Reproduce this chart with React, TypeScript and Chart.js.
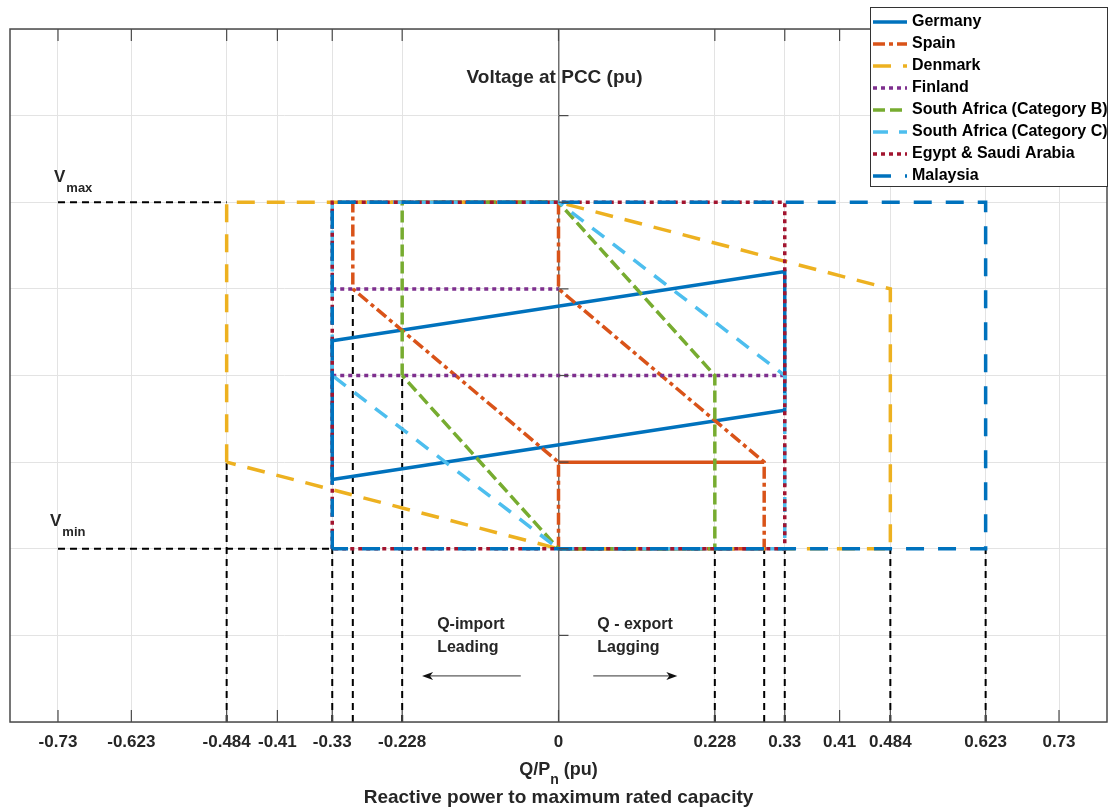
import React, { useEffect, useRef } from 'react';
import { Chart, registerables } from 'chart.js';

Chart.register(...registerables);

const FONT = '"Liberation Sans", Arial, Helvetica, sans-serif';

// ---- axes ----
const xMin = -0.8;
const xMax = 0.8;
const yMin = 0.8;
const yMax = 1.2;
const xTicks = [-0.73, -0.623, -0.484, -0.41, -0.33, -0.228, 0, 0.228, 0.33, 0.41, 0.484, 0.623, 0.73];
const xTickLabels = ['-0.73', '-0.623', '-0.484', '-0.41', '-0.33', '-0.228', '0', '0.228', '0.33', '0.41', '0.484', '0.623', '0.73'];
const yGrid = [0.8, 0.85, 0.9, 0.95, 1.0, 1.05, 1.1, 1.15, 1.2];
const vMax = 1.1;
const vMin = 0.9;

// ---- series (Q/Pn, V) ; null = break ----
const refQ = [-0.73, -0.484, null, -0.73, -0.33, null, -0.484, -0.484, null, -0.33, -0.33, null, -0.3, -0.3, null, -0.228, -0.228, null, 0.228, 0.228, null, 0.3, 0.3, null, 0.33, 0.33, null, 0.484, 0.484, null, 0.623, 0.623];
const refV = [1.1, 1.1, null, 0.9, 0.9, null, 0.8, 0.95, null, 0.8, 0.9, null, 0.8, 1.05, null, 0.8, 1.0, null, 0.8, 0.9, null, 0.8, 0.9, null, 0.8, 0.9, null, 0.8, 0.9, null, 0.8, 0.9];

const germanyQ = [-0.33, 0.33, 0.33, -0.33, -0.33];
const germanyV = [0.94, 0.98, 1.06, 1.02, 0.94];

const spainQ = [0, 0, -0.3, -0.3, 0, 0, 0.3, 0.3, 0];
const spainV = [0.9, 0.95, 1.05, 1.1, 1.1, 1.05, 0.95, 0.9, 0.9];
const spainLevelQ = [0, 0.3];
const spainLevelV = [0.95, 0.95];

const denmarkQ = [-0.484, -0.484, 0, 0.484, 0.484, 0, -0.484];
const denmarkV = [0.95, 1.1, 1.1, 1.05, 0.9, 0.9, 0.95];

const finlandQ = [-0.33, 0, null, -0.33, 0.33];
const finlandV = [1.05, 1.05, null, 1.0, 1.0];

const saBQ = [-0.228, -0.228, 0, 0.228, 0.228, 0, -0.228];
const saBV = [1.0, 1.1, 1.1, 1.0, 0.9, 0.9, 1.0];

const saCQ = [-0.33, -0.33, 0, 0.33, 0.33, 0, -0.33];
const saCV = [1.0, 1.1, 1.1, 1.0, 0.9, 0.9, 1.0];

const egyptQ = [-0.33, -0.33, 0.33, 0.33, -0.33];
const egyptV = [0.9, 1.1, 1.1, 0.9, 0.9];

const malaysiaQ = [-0.33, -0.33, 0.623, 0.623, -0.33];
const malaysiaV = [0.9, 1.1, 1.1, 0.9, 0.9];

const legendLabels = ['Germany', 'Spain', 'Denmark', 'Finland', 'South Africa (Category B)', 'South Africa (Category C)', 'Egypt & Saudi Arabia', 'Malaysia'];

// annotation anchors (data coordinates)
const importText = { q: -0.177, v1: 0.856, v2: 0.8427 };
const exportText = { q: 0.0565, v1: 0.856, v2: 0.8427 };
const importArrow = { from: -0.055, to: -0.199, v: 0.8266 };
const exportArrow = { from: 0.0507, to: 0.1733, v: 0.8266 };

type S = { label: string; q: (number | null)[]; v: (number | null)[]; color: string; width: number; dash: number[] };

const series: S[] = [
  { label: 'ref', q: refQ, v: refV, color: '#000000', width: 2, dash: [7, 5] },
  { label: 'Germany', q: germanyQ, v: germanyV, color: '#0072BD', width: 3.5, dash: [] },
  { label: 'Spain', q: spainQ, v: spainV, color: '#D95319', width: 3.5, dash: [12, 4, 4, 4] },
  { label: 'Spain level', q: spainLevelQ, v: spainLevelV, color: '#D95319', width: 3.5, dash: [] },
  { label: 'Denmark', q: denmarkQ, v: denmarkV, color: '#EDB120', width: 3.5, dash: [18, 12] },
  { label: 'Finland', q: finlandQ, v: finlandV, color: '#7E2F8E', width: 3.5, dash: [4, 4] },
  { label: 'South Africa (Category B)', q: saBQ, v: saBV, color: '#77AC30', width: 3.5, dash: [12, 5] },
  { label: 'South Africa (Category C)', q: saCQ, v: saCV, color: '#4DBEEE', width: 3.5, dash: [15, 11] },
  { label: 'Egypt & Saudi Arabia', q: egyptQ, v: egyptV, color: '#A2142F', width: 3.5, dash: [4, 4] },
  { label: 'Malaysia', q: malaysiaQ, v: malaysiaV, color: '#0072BD', width: 3.5, dash: [18, 14] },
];

const toPoints = (q: (number | null)[], v: (number | null)[]) =>
  q.map((qq, i) => (qq === null || v[i] === null ? { x: NaN, y: NaN } : { x: qq as number, y: v[i] as number }));

const decorPlugin = {
  id: 'decor',
  afterDatasetsDraw(chart: any) {
    const { ctx, chartArea: a, scales } = chart;
    const x = scales.x;
    const y = scales.y;
    const line = (x1: number, y1: number, x2: number, y2: number) => {
      ctx.beginPath();
      ctx.moveTo(x1, y1);
      ctx.lineTo(x2, y2);
      ctx.stroke();
    };
    ctx.save();
    ctx.setLineDash([]);
    // box
    ctx.strokeStyle = '#4a4a4a';
    ctx.lineWidth = 1.5;
    ctx.strokeRect(a.left, a.top, a.right - a.left, a.bottom - a.top);
    // tick marks
    ctx.lineWidth = 1.2;
    for (const v of xTicks) {
      const px = x.getPixelForValue(v);
      line(px, a.top, px, a.top + 12);
      line(px, a.bottom, px, a.bottom - 12);
    }
    const x0 = x.getPixelForValue(0);
    for (const v of yGrid.slice(1, -1)) {
      const py = y.getPixelForValue(v);
      line(x0, py, x0 + 10, py);
    }

    ctx.fillStyle = '#262626';
    ctx.textBaseline = 'middle';
    // y-axis title
    ctx.font = `bold 19px ${FONT}`;
    ctx.textAlign = 'center';
    ctx.fillText('Voltage at PCC (pu)', x0 - 4, y.getPixelForValue(1.1717));

    // Vmax / Vmin
    const vLabel = (val: number, sub: string, dx: number, dy: number) => {
      const px = x.getPixelForValue(-0.73) + dx;
      const py = y.getPixelForValue(val) + dy;
      ctx.textAlign = 'left';
      ctx.font = `bold 17px ${FONT}`;
      ctx.fillText('V', px, py);
      const w = ctx.measureText('V').width;
      ctx.font = `bold 13px ${FONT}`;
      ctx.fillText(sub, px + w + 1, py + 11);
    };
    vLabel(vMax, 'max', -4, -25);
    vLabel(vMin, 'min', -8, -27);

    // annotation texts
    ctx.font = `bold 16px ${FONT}`;
    ctx.textAlign = 'left';
    ctx.fillText('Q-import', x.getPixelForValue(importText.q), y.getPixelForValue(importText.v1));
    ctx.fillText('Leading', x.getPixelForValue(importText.q), y.getPixelForValue(importText.v2));
    ctx.fillText('Q - export', x.getPixelForValue(exportText.q), y.getPixelForValue(exportText.v1));
    ctx.fillText('Lagging', x.getPixelForValue(exportText.q), y.getPixelForValue(exportText.v2));

    // arrows
    const arrow = (from: number, to: number, v: number) => {
      const x1 = x.getPixelForValue(from);
      const x2 = x.getPixelForValue(to);
      const py = y.getPixelForValue(v);
      const dir = Math.sign(x2 - x1);
      ctx.strokeStyle = '#333333';
      ctx.lineWidth = 1;
      line(x1, py, x2 - dir * 6, py);
      ctx.fillStyle = '#111111';
      ctx.beginPath();
      ctx.moveTo(x2, py);
      ctx.lineTo(x2 - dir * 11, py - 4);
      ctx.lineTo(x2 - dir * 8, py);
      ctx.lineTo(x2 - dir * 11, py + 4);
      ctx.closePath();
      ctx.fill();
    };
    arrow(importArrow.from, importArrow.to, importArrow.v);
    arrow(exportArrow.from, exportArrow.to, exportArrow.v);

    // x-axis titles
    ctx.fillStyle = '#262626';
    ctx.font = `bold 18px ${FONT}`;
    const t1 = 'Q/P';
    const t3 = ' (pu)';
    const w1 = ctx.measureText(t1).width;
    const w3 = ctx.measureText(t3).width;
    ctx.font = `bold 14px ${FONT}`;
    const w2 = ctx.measureText('n').width;
    const total = w1 + w2 + w3;
    let sx = x0 - total / 2;
    const ty = a.bottom + 48;
    ctx.textAlign = 'left';
    ctx.font = `bold 18px ${FONT}`;
    ctx.fillText(t1, sx, ty);
    sx += w1;
    ctx.font = `bold 14px ${FONT}`;
    ctx.fillText('n', sx, ty + 10);
    sx += w2;
    ctx.font = `bold 18px ${FONT}`;
    ctx.fillText(t3, sx, ty);
    ctx.font = `bold 19px ${FONT}`;
    ctx.textAlign = 'center';
    ctx.fillText('Reactive power to maximum rated capacity', x0, a.bottom + 76);

    // legend
    const lx = 870;
    const ly = 7;
    const lw = 238;
    const lh = 180;
    ctx.fillStyle = '#ffffff';
    ctx.fillRect(lx, ly, lw, lh);
    ctx.strokeStyle = '#333333';
    ctx.lineWidth = 1;
    ctx.strokeRect(lx + 0.5, ly + 0.5, lw - 1, lh - 1);
    ctx.font = `bold 16px ${FONT}`;
    ctx.textAlign = 'left';
    legendLabels.forEach((lab, i) => {
      const ds = chart.data.datasets.find((d: any) => d.label === lab);
      if (!ds) return;
      const iy = ly + 15 + i * 22;
      ctx.strokeStyle = ds.borderColor;
      ctx.lineWidth = ds.borderWidth;
      ctx.setLineDash(ds.borderDash || []);
      line(lx + 3, iy, lx + 37, iy);
      ctx.setLineDash([]);
      ctx.fillStyle = '#000000';
      ctx.fillText(lab, lx + 42, iy);
    });
    ctx.restore();
  },
};

export default function App() {
  const ref = useRef<HTMLCanvasElement | null>(null);
  useEffect(() => {
    if (!ref.current) return;
    const n = series.length;
    const chart = new Chart(ref.current, {
      type: 'scatter',
      data: {
        datasets: series.map((s, i) => ({
          label: s.label,
          data: toPoints(s.q, s.v),
          showLine: true,
          spanGaps: false,
          borderColor: s.color,
          backgroundColor: s.color,
          borderWidth: s.width,
          borderDash: s.dash,
          pointRadius: 0,
          pointHoverRadius: 0,
          fill: false,
          tension: 0,
          order: n - i,
        })),
      },
      options: {
        responsive: false,
        animation: false,
        events: [],
        layout: { padding: { left: 10, right: 3, top: 29, bottom: 46.6 } },
        plugins: { legend: { display: false }, tooltip: { enabled: false }, title: { display: false } },
        scales: {
          x: {
            type: 'linear',
            min: xMin,
            max: xMax,
            afterBuildTicks: (s: any) => {
              s.ticks = xTicks.map((v) => ({ value: v }));
            },
            ticks: {
              autoSkip: false,
              maxRotation: 0,
              padding: 10,
              color: '#262626',
              font: { family: FONT, size: 17, weight: 'bold' },
              callback: (_v: any, i: number) => xTickLabels[i],
            },
            grid: {
              drawTicks: false,
              color: (c: any) => (c.tick && c.tick.value === 0 ? '#6e6e6e' : '#e3e3e3'),
              lineWidth: (c: any) => (c.tick && c.tick.value === 0 ? 1.5 : 1),
            },
            border: { display: false },
          },
          y: {
            type: 'linear',
            min: yMin,
            max: yMax,
            afterBuildTicks: (s: any) => {
              s.ticks = yGrid.map((v) => ({ value: v }));
            },
            ticks: { display: false },
            grid: { drawTicks: false, color: '#e3e3e3' },
            border: { display: false },
          },
        },
      },
      plugins: [decorPlugin],
    } as any);
    return () => chart.destroy();
  }, []);
  return (
    <div style={{ position: 'absolute', left: 0, top: 0, width: 1110, height: 809, background: '#ffffff' }}>
      <canvas ref={ref} width={1110} height={809} />
    </div>
  );
}
